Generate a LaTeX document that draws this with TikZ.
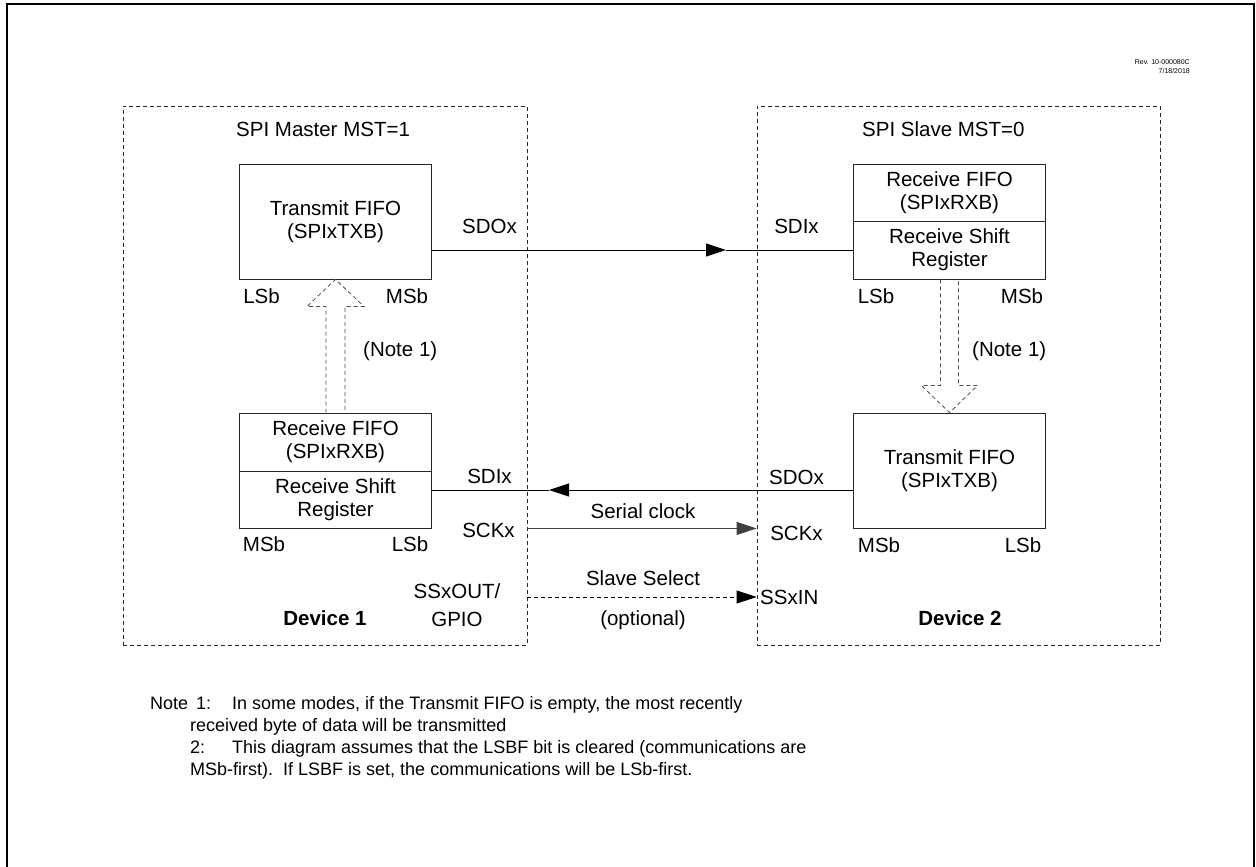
\documentclass[tikz,border=0pt]{standalone}
\usepackage{fontspec}
\setmainfont{Liberation Sans}
\usetikzlibrary{arrows.meta,calc}
\tikzset{
  dev/.style={draw=black!85, dash pattern=on 4pt off 3pt, line width=0.8pt, inner sep=0},
  blk/.style={draw=black!85, line width=0.9pt, minimum width=192pt, inner sep=0, align=center},
  lbl/.style={inner sep=0, font=\fontsize{20.5}{23}\selectfont},
  sig/.style={line width=0.9pt, -{Triangle[length=20pt,width=13pt]}},
  plain/.style={line width=0.9pt},
  hollow/.style={draw=black!70, dash pattern=on 4pt off 3pt, line width=0.8pt},
  note/.style={inner sep=0, anchor=base west, font=\fontsize{18}{21}\selectfont},
  rev/.style={inner sep=0, anchor=east, font=\fontsize{7}{8}\selectfont}
}
\begin{document}
\begin{tikzpicture}[x=1pt,y=-1pt, font=\fontsize{20.5}{23}\selectfont]
\useasboundingbox (0,0) rectangle (1256,867);
\fill[white] (0,0) rectangle (1256,867);
% outer frame (open at bottom)
\draw[line width=2pt] (7,875) -- (7,4) -- (1254,4) -- (1254,875);
\node[rev] (rev1) at (1190,62) {Rev. 10-000080C};
\node[rev] (rev2) at (1190,71) {7/18/2018};

% device boxes
\node[dev, minimum width=404pt, minimum height=539pt] (dev1) at (325,375.5) {};
\node[dev, minimum width=403pt, minimum height=539pt] (dev2) at (958.5,375.5) {};
\node[lbl, anchor=west] (mst1) at (236,129) {SPI Master MST=1};
\node[lbl, anchor=west] (mst0) at (862,129) {SPI Slave MST=0};

% left blocks
\node[blk, minimum height=115pt] (txL) at (335.5,221.5) {Transmit FIFO\\(SPIxTXB)};
\node[blk, minimum height=58pt] (rxLa) at (335.5,442) {Receive FIFO\\(SPIxRXB)};
\node[blk, minimum height=57pt] (rxLb) at (335.5,499.5) {Receive Shift\\Register};

% right blocks
\node[blk, minimum height=57pt] (rxRa) at (949.5,192.5) {Receive FIFO\\(SPIxRXB)};
\node[blk, minimum height=58pt] (rxRb) at (949.5,250) {Receive Shift\\Register};
\node[blk, minimum height=115pt] (txR) at (949.5,470.5) {Transmit FIFO\\(SPIxTXB)};

% labels
\node[lbl] (sdoL) at (489.5,226) {SDOx};
\node[lbl] (sdiR) at (796.5,226) {SDIx};
\node[lbl] (lsb1) at (261.5,296) {LSb};
\node[lbl] (msb1) at (407,296) {MSb};
\node[lbl] (lsb2) at (876,296) {LSb};
\node[lbl] (msb2) at (1022,296) {MSb};
\node[lbl, anchor=west] (n1L) at (363,351) {(Note 1)};
\node[lbl, anchor=west] (n1R) at (972,351) {(Note 1)};
\node[lbl] (sdiL) at (489.5,476) {SDIx};
\node[lbl] (sckL) at (488.5,530) {SCKx};
\node[lbl] (msb3) at (264,544) {MSb};
\node[lbl] (lsb3) at (410,544) {LSb};
\node[lbl] (ssout) at (457,591) {SSxOUT/};
\node[lbl] (gpio) at (457,619) {GPIO};
\node[lbl, font=\bfseries\fontsize{20.5}{23}\selectfont] (d1) at (325,618) {Device 1};
\node[lbl] (sclk) at (643,511) {Serial clock};
\node[lbl] (ssel) at (643,578) {Slave Select};
\node[lbl] (opt) at (643,620) {(optional)};
\node[lbl] (sdoR) at (796.5,477) {SDOx};
\node[lbl] (sckR) at (796.5,533) {SCKx};
\node[lbl] (msb4) at (879,545) {MSb};
\node[lbl] (lsb4) at (1023,545) {LSb};
\node[lbl, anchor=west] (ssin) at (760,597) {SSxIN};
\node[lbl, font=\bfseries\fontsize{20.5}{23}\selectfont] (d2) at (960,618) {Device 2};

% SDO (master) -> SDI (slave)
\coordinate (tip1) at (726,250);
\draw[sig] (rxRb.west -| txL.east) -- (tip1);
\draw[plain] (tip1) -- (rxRb.west);
% SDO (slave) -> SDI (master)
\coordinate (tip2) at (549,490);
\draw[sig] (txR.west |- tip2) -- (tip2);
\draw[plain] (tip2) -- (rxLb.east |- tip2);
% serial clock
\draw[sig, draw=black!75] (dev1.east |- txR.south) -- (dev2.west |- txR.south);
% slave select
\draw[sig, dash pattern=on 4pt off 3pt, line width=0.8pt] (dev1.east |- ssin.west) -- (dev2.west |- ssin.west);

% hollow block arrows
\draw[hollow] ($(rxLa.north)+(-9.5,0)$) -- ($(txL.south)+(-9.5,27)$) -- ($(txL.south)+(-28.5,27)$) -- (txL.south) -- ($(txL.south)+(28.5,27)$) -- ($(txL.south)+(9.5,27)$) -- ($(rxLa.north)+(9.5,0)$);
\draw[hollow] ($(rxRb.south)+(-9,0)$) -- ($(txR.north)+(-9,-27)$) -- ($(txR.north)+(-28,-27)$) -- (txR.north) -- ($(txR.north)+(28,-27)$) -- ($(txR.north)+(9,-27)$) -- ($(rxRb.south)+(9,0)$);

% notes
\node[note] (nt0) at (150,709) {Note};
\node[note] (nt1) at (196,709) {1:};
\node[note] (nt1a) at (232,709) {In some modes, if the Transmit FIFO is empty, the most recently};
\node[note] (nt1b) at (190,731) {received byte of data will be transmitted};
\node[note] (nt2) at (190,753) {2:};
\node[note] (nt2a) at (232,753) {This diagram assumes that the LSBF bit is cleared (communications are};
\node[note] (nt2b) at (190,775) {MSb-first).\ \ If LSBF is set, the communications will be LSb-first.};
\end{tikzpicture}
\end{document}
